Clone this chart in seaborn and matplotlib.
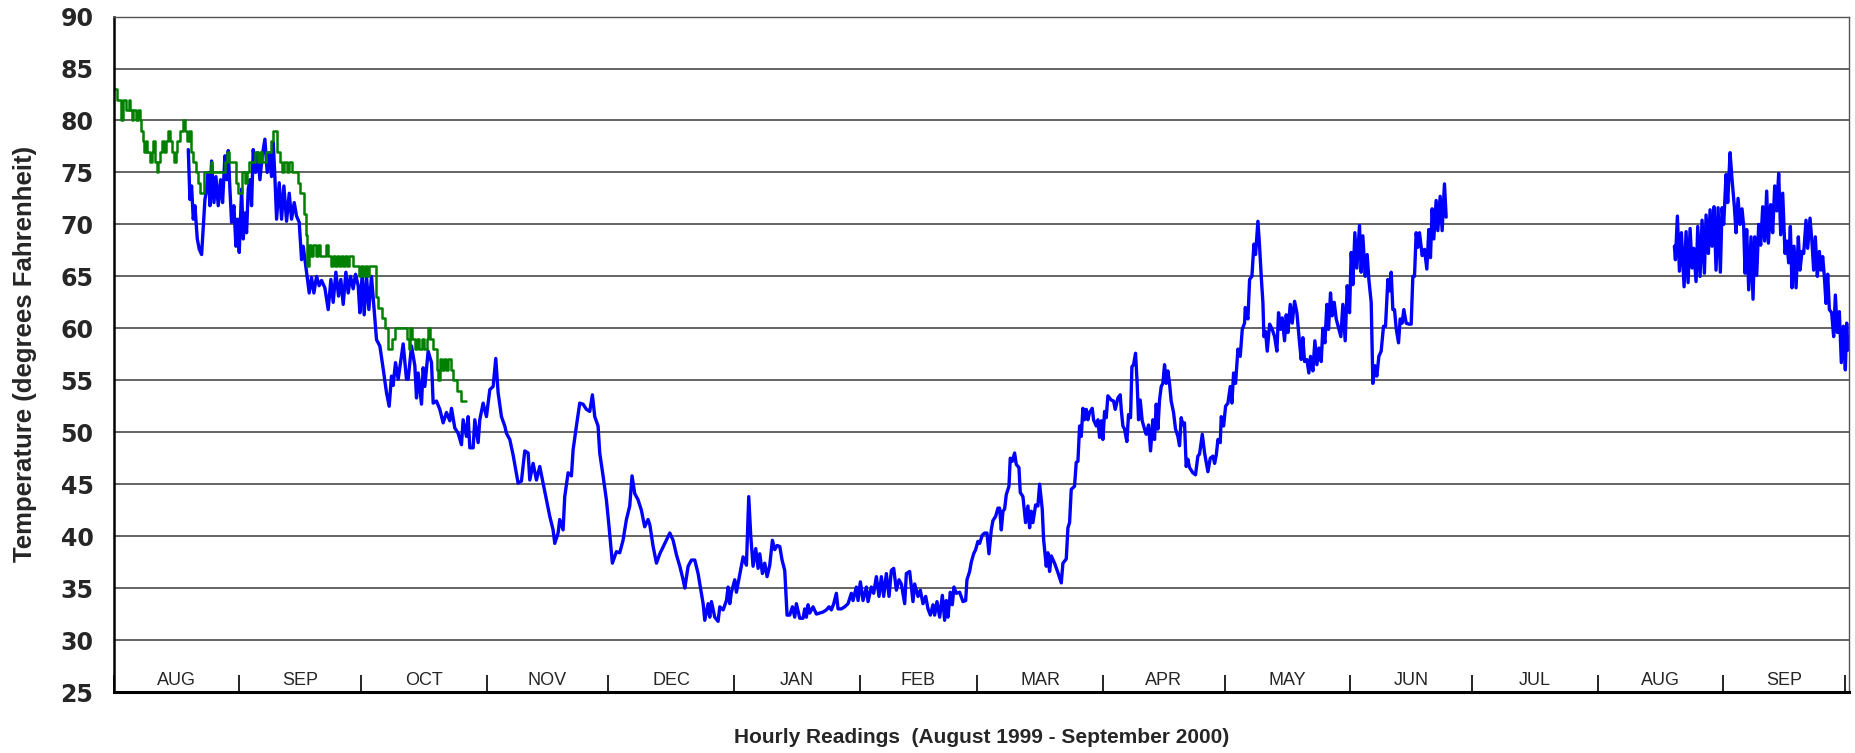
import matplotlib
matplotlib.use("Agg")
import matplotlib.pyplot as plt
import pandas as pd
import seaborn as sns

# Days since 1 Aug 1999
blue_days_a = [
    18.42, 18.83, 19.24, 19.65, 20.06, 20.64, 21.13, 21.71, 22.12, 22.53,
    22.94, 23.35, 23.76, 24.17, 24.75, 25.24, 25.81, 26.39, 26.88, 27.46,
    27.87, 28.28, 28.69, 29.10, 29.68, 30.17, 30.58, 30.99, 31.57, 31.98,
    32.39, 32.80, 33.21, 33.62, 34.03, 34.44, 35.02, 35.51, 36.09, 36.66,
    37.32, 37.89, 38.39, 38.96, 39.37, 39.78, 40.20, 40.85, 41.43, 42.00,
    42.66, 43.32, 43.89, 44.55, 45.12, 45.78, 46.36, 46.77, 47.59, 48.25,
    48.82, 49.40, 50.06, 50.71, 51.29, 52.11, 52.93, 53.59, 54.16, 54.82,
    55.48, 56.05, 56.63, 57.29, 57.86, 58.44, 59.09, 59.67, 60.33, 60.74,
    61.31, 61.80, 62.38, 62.96, 63.61, 64.19, 64.85, 65.67, 66.49, 67.31,
    67.97, 68.54, 68.95, 69.53, 70.19, 70.76, 71.42, 72.24,
    72.65, 73.48, 74.30, 74.71, 75.12, 75.94, 76.35, 76.76, 77.58, 78.41,
    78.82, 79.64, 80.46, 81.28, 82.10, 82.93, 83.34, 84.16, 84.98, 85.80,
    86.21, 87.03, 87.44, 87.86, 88.68, 89.09, 89.91, 90.32, 91.14, 91.96,
    92.79, 93.61, 94.26, 94.84, 95.66, 96.48, 96.89, 97.72, 98.54, 99.19,
    99.77, 100.59, 101.41, 102.24, 102.65, 103.47, 104.29, 105.11, 105.93, 106.75,
    107.58, 108.40, 108.81, 109.63, 110.04, 110.86, 111.27, 112.10, 112.92, 113.33,
    114.15, 114.97, 115.79, 116.61, 117.44, 118.09, 118.67, 119.49, 119.90, 120.72,
    121.54, 122.20, 123.02, 124.01, 124.83, 125.65, 126.48, 127.30, 127.87, 128.53,
    129.35, 130.17, 130.99, 131.82,
    132.25, 133.07, 133.89, 134.72, 135.95, 137.18, 138.00, 138.82, 139.65, 140.47,
    140.88, 141.70, 142.52, 143.34, 144.16, 144.99, 145.40, 145.81, 146.63, 147.04,
    147.45, 148.27, 149.09, 149.51, 150.33, 151.15, 151.56, 151.97, 152.38, 153.20,
    153.61, 154.44, 155.26, 156.08, 156.65, 157.15, 157.72, 158.38, 158.96, 159.37,
    160.02, 160.60, 161.17, 161.83, 162.49, 163.06, 163.64, 164.30, 164.87, 165.53,
    165.78, 166.10, 166.76, 167.42, 167.99, 168.40, 169.23, 170.05, 170.46, 170.87,
    171.28, 171.69, 172.51, 173.34, 174.16, 174.98, 175.80, 176.46, 177.03, 177.61,
    178.26, 178.68, 179.50, 180.32, 181.14, 181.96, 182.37, 183.19, 183.61, 184.18,
    184.84, 185.66, 186.07, 186.89, 187.47, 188.13, 188.78, 189.36, 189.93, 190.59,
    191.25, 191.82, 192.40, 193.06, 193.71, 194.29, 195.11, 195.52, 196.34, 197.16,
    197.57, 198.40, 198.97, 199.63, 200.29, 200.86, 201.44, 202.09, 202.50, 203.08,
    203.74, 204.40, 204.97, 205.38, 205.79, 206.37, 206.86, 207.27, 207.85, 208.67,
    209.49, 210.15, 210.47, 211.13, 211.54, 212.12, 212.61, 213.18, 213.60, 214.25,
    214.83, 215.41, 215.90, 216.47, 216.88, 217.54, 218.12,
    218.53, 218.94, 219.35, 219.76, 220.17, 220.83, 221.15, 221.65, 222.22, 222.63,
    223.29, 223.62, 224.28, 224.93, 225.51, 225.92, 226.33, 226.74, 227.40, 227.97,
    228.39, 229.04, 229.37, 230.03, 230.44, 230.85, 231.26, 232.08, 232.90, 233.73,
    234.14, 234.96, 235.37, 235.78, 236.19, 237.01, 237.42, 237.84, 238.25, 238.66,
    239.07, 239.48, 239.89, 240.30, 240.71, 241.37, 241.70, 242.35, 242.77, 243.18,
    243.59, 244.00, 244.41, 244.82, 245.23, 246.05, 246.63, 247.04, 247.70, 248.27,
    248.52, 248.93, 249.34, 249.91, 250.32, 250.82, 251.15, 251.56, 252.05, 252.46,
    252.79, 253.20, 253.69, 254.27, 254.68, 255.26, 255.75, 256.32, 256.73, 257.15,
    257.56, 257.97, 258.38, 258.79, 259.20, 259.61, 260.02, 260.43, 260.84, 261.42,
    261.91, 262.49, 262.90, 263.31, 263.72, 264.13, 264.54, 264.95, 265.36, 266.18,
    266.84, 267.42, 267.83,
    268.51, 269.08, 269.90, 270.48, 271.14, 271.55, 271.96, 272.37, 272.94, 273.19,
    273.77, 274.26, 274.83, 275.41, 275.82, 276.23, 276.72, 277.30, 277.87, 278.37,
    278.94, 279.11, 279.76, 280.18, 280.75, 281.24, 281.65, 282.23, 282.64, 283.05,
    283.46, 283.71, 284.12, 284.53, 285.11, 285.76, 286.34, 286.91, 287.32, 287.82,
    288.23, 288.80, 289.21, 289.63, 290.20, 290.69, 291.27, 291.84, 292.50, 292.91,
    293.32, 293.73, 294.31, 294.80, 295.21, 295.79, 296.28, 296.77, 297.27, 297.84,
    298.25, 298.75, 299.24, 299.65, 300.14, 300.55, 301.05, 301.54, 302.20, 302.69,
    303.18, 303.76, 304.25, 304.83, 305.24, 305.65, 306.14, 306.63, 307.29, 307.70,
    308.11, 308.69, 309.18, 309.59, 310.17, 310.58, 311.07, 311.56, 312.06, 312.63,
    313.21, 313.70, 314.28, 314.69, 315.10, 315.51, 315.92, 316.33, 316.91, 317.32,
    317.81, 318.22, 318.80, 319.45, 320.03, 320.44, 320.85, 321.26, 321.67, 322.08,
    322.74, 323.31, 323.89, 324.38, 324.79, 325.20, 325.61, 326.19, 326.60, 327.18,
    327.67, 328.24, 328.66,
]
blue_temps_a = [
    77.2, 72.4, 73.7, 70.5, 71.8, 68.6, 67.6, 67.1, 69.8, 72.4,
    73.4, 75.0, 71.8, 76.1, 72.1, 74.6, 71.8, 74.3, 72.1, 76.6,
    74.3, 77.1, 73.4, 70.2, 71.8, 67.9, 70.5, 67.3, 73.4, 68.6,
    71.1, 69.2, 73.4, 74.3, 71.8, 77.2, 75.0, 76.9, 74.3, 76.6,
    78.2, 75.0, 76.9, 74.6, 77.9, 74.6, 70.5, 74.0, 70.5, 73.7,
    70.3, 73.0, 70.5, 72.1, 70.8, 70.2, 66.6, 67.9, 65.4, 63.4,
    64.9, 63.4, 65.0, 64.1, 64.6, 63.9, 61.8, 64.7, 62.5, 65.4,
    63.1, 64.7, 62.3, 65.4, 63.4, 65.0, 63.8, 65.2, 64.1, 61.5,
    65.2, 61.3, 65.0, 61.8, 65.0, 62.1, 58.9, 58.3, 56.1, 53.8,
    52.5, 55.4, 54.5, 56.7, 55.1, 56.7, 58.5, 55.1,
    55.1, 58.3, 56.4, 53.3, 55.7, 52.7, 56.2, 54.4, 57.8, 56.7,
    52.8, 53.0, 52.2, 50.9, 51.9, 51.1, 52.3, 50.4, 49.9, 48.8,
    51.2, 49.6, 51.5, 48.5, 48.5, 51.2, 49.0, 51.2, 52.8, 51.5,
    54.1, 54.4, 57.1, 53.8, 51.5, 50.6, 49.9, 49.3, 47.8, 46.4,
    45.1, 45.3, 48.2, 48.0, 45.4, 47.0, 45.4, 46.7, 45.1, 43.5,
    41.9, 40.6, 39.3, 40.3, 41.6, 40.6, 43.8, 46.1, 45.8, 48.3,
    50.6, 52.8, 52.7, 52.2, 52.0, 53.6, 51.5, 50.6, 48.0, 45.8,
    43.5, 40.9, 37.4, 38.5, 38.4, 39.6, 41.6, 42.9, 45.8, 44.1,
    43.5, 42.5, 40.9, 41.6,
    41.1, 39.0, 37.4, 38.3, 39.3, 40.3, 39.6, 38.2, 37.1, 35.8,
    35.0, 37.1, 37.7, 37.7, 36.4, 34.5, 33.5, 31.9, 33.5, 32.2,
    33.7, 32.2, 31.8, 33.2, 32.9, 33.8, 35.1, 33.5, 34.6, 35.8,
    34.6, 36.3, 38.0, 37.2, 43.8, 40.0, 37.1, 38.8, 36.9, 38.3,
    36.4, 37.4, 36.1, 37.2, 39.6, 38.7, 39.1, 39.0, 37.7, 36.7,
    34.8, 32.4, 32.4, 33.2, 32.2, 33.5, 32.1, 32.1, 33.0, 32.2,
    33.4, 32.6, 33.2, 32.5, 32.6, 32.7, 32.9, 33.2, 32.9, 33.5,
    34.5, 33.0, 33.0, 33.2, 33.5, 34.5, 33.8, 35.1, 33.8, 35.6,
    33.8, 35.1, 33.7, 35.1, 34.5, 36.1, 34.2, 36.1, 34.2, 36.4,
    34.2, 36.7, 36.9, 34.8, 35.8, 35.4, 33.5, 36.4, 36.6, 33.7,
    35.4, 34.2, 34.8, 33.5, 34.2, 33.0, 32.4, 33.4, 32.4, 33.7,
    32.2, 34.3, 31.9, 33.8, 32.2, 34.6, 33.4, 35.1, 34.5, 34.6,
    33.7, 33.8, 35.8, 36.6, 37.5, 38.3, 38.7, 39.5, 39.3, 40.1,
    40.3, 40.3, 38.3, 40.6, 41.5, 41.9, 42.7,
    42.7, 40.6, 42.4, 42.6, 44.0, 44.8, 47.5, 47.2, 48.0, 46.9,
    46.6, 44.2, 43.8, 41.3, 42.9, 40.8, 42.4, 41.3, 43.0, 42.9,
    45.0, 42.6, 39.7, 37.1, 38.4, 36.6, 38.1, 37.4, 36.5, 35.5,
    37.4, 37.8, 40.8, 41.3, 44.5, 44.8, 47.1, 47.2, 50.6, 49.6,
    52.3, 51.2, 52.2, 51.2, 51.9, 52.3, 51.2, 50.6, 51.2, 49.5,
    51.1, 49.3, 52.0, 51.4, 53.5, 53.1, 53.0, 52.2, 53.3, 53.6,
    52.2, 50.6, 50.3, 49.1, 51.7, 51.4, 56.3, 56.5, 57.6, 54.6,
    51.2, 53.1, 51.1, 50.3, 49.8, 50.7, 48.2, 51.2, 49.3, 52.7,
    50.3, 53.1, 54.4, 54.7, 56.5, 54.7, 55.9, 54.7, 53.0, 51.9,
    50.3, 49.6, 48.7, 51.4, 50.7, 50.9, 46.7, 47.4, 46.6, 46.1,
    45.9, 47.7, 47.9,
    49.8, 48.0, 46.2, 47.5, 47.7, 47.0, 47.8, 49.3, 49.0, 51.5,
    50.6, 52.5, 52.8, 54.4, 52.8, 55.7, 54.7, 58.0, 57.3, 59.9,
    60.5, 62.0, 60.9, 64.7, 65.0, 68.1, 67.1, 70.3, 67.9, 65.0,
    62.5, 59.2, 59.7, 57.8, 60.4, 59.9, 59.2, 57.8, 61.5, 59.9,
    61.0, 58.8, 61.3, 59.6, 62.3, 60.5, 62.6, 61.5, 58.6, 57.0,
    59.1, 56.8, 57.0, 55.7, 57.3, 55.9, 58.8, 56.5, 58.1, 56.8,
    60.0, 58.6, 62.3, 59.9, 63.4, 61.2, 62.5, 60.9, 59.9, 59.2,
    62.3, 58.8, 64.1, 61.5, 67.3, 64.2, 69.2, 65.8, 69.9, 65.4,
    68.9, 65.0, 67.1, 64.7, 62.5, 54.7, 56.4, 55.4, 57.3, 57.8,
    60.2, 60.2, 64.7, 63.6, 65.4, 61.8, 61.8, 60.0, 58.6, 60.9,
    60.5, 61.8, 60.5, 60.4, 60.4, 65.0, 65.0, 69.2, 67.8, 69.2,
    67.0, 67.6, 65.7, 69.5, 66.8, 71.5, 68.6, 72.3, 69.4, 72.7,
    69.4, 73.9, 70.7,
]

# Second logger run, Aug-Sep 2000
blue_days_b = [
    384.95, 385.20, 385.69, 386.19, 386.68, 387.34, 387.83, 388.32, 388.82, 389.31,
    389.72, 390.29, 390.71, 391.28, 391.77, 392.35, 392.76, 393.33, 393.75, 394.24,
    394.73, 395.22, 395.72, 396.29, 396.70, 397.11, 397.69, 398.10, 398.68, 399.17,
    399.74, 400.15, 400.65, 401.14, 401.63, 402.04, 402.37, 402.78, 403.28, 403.85,
    404.34, 404.76, 405.25, 405.74, 406.23, 406.73, 407.22, 407.71, 408.13, 408.70,
    409.19, 409.69, 410.18, 410.67, 411.17, 411.66, 412.23, 412.64, 413.14, 413.55,
    413.96, 414.45, 414.95, 415.52, 415.93, 416.42, 416.84, 417.41, 417.82, 418.40,
    418.89, 419.30, 419.71, 420.20, 420.70, 421.11, 421.52, 421.93, 422.34, 422.76,
    423.17, 423.74, 424.23, 424.65, 425.14, 425.63, 426.12, 426.62, 427.11, 427.44,
    427.76,
]
blue_temps_b = [
    67.9, 66.6, 70.8, 65.5, 69.2, 64.0, 69.3, 64.4, 69.6, 65.8,
    67.7, 64.5, 69.8, 65.0, 70.4, 65.3, 70.9, 67.2, 71.4, 67.9,
    71.7, 65.6, 71.6, 65.4, 71.6, 70.0, 74.8, 72.1, 76.9, 74.3,
    71.7, 69.2, 72.5, 70.0, 71.5, 69.8, 65.3, 69.5, 63.7, 68.8,
    62.8, 68.8, 65.1, 70.0, 68.0, 71.7, 68.4, 73.2, 68.2, 71.9,
    69.2, 73.7, 71.3, 74.9, 69.0, 73.0, 67.2, 68.4, 66.3, 69.8,
    63.9, 67.9, 63.9, 68.8, 65.6, 67.4, 67.2, 70.4, 67.7, 70.6,
    68.2, 65.6, 68.8, 65.0, 67.4, 65.6, 66.9, 65.0, 62.4, 65.2,
    61.8, 61.5, 59.2, 63.2, 59.6, 61.6, 56.7, 60.2, 56.0, 60.5,
    57.9,
]

# Whole-degree record (step changes)
green_days = [
    0.0, 0.9, 1.9, 2.4, 3.0, 3.8, 4.0, 4.5, 4.9, 5.6,
    6.0, 6.5, 6.7, 7.2, 7.4, 8.0, 8.3, 9.0, 9.4, 9.8,
    10.1, 10.6, 11.0, 11.4, 12.0, 12.5, 13.0, 13.3, 13.8, 14.3,
    14.8, 15.3, 15.6, 16.5, 17.0, 17.5, 18.0, 18.5, 19.0, 19.6,
    20.3, 20.9, 21.3, 22.4, 24.0, 24.3, 27.4, 28.0, 28.5, 30.3,
    30.7, 31.6, 32.3, 32.8, 33.4, 35.0, 35.5, 36.0, 36.6, 37.6,
    38.9, 39.4, 40.3, 41.0, 41.5, 42.0, 42.7, 43.3, 44.0, 45.5,
    46.0, 47.0, 47.4, 47.8, 48.2, 48.7, 49.2, 49.8, 50.3, 51.0,
    52.5, 53.0, 53.5, 54.0, 54.5, 55.0, 55.5, 56.0, 56.5, 57.0,
    57.5, 58.0, 59.0, 60.5, 61.0, 61.5, 62.0, 62.5, 63.0, 64.6,
    65.3, 66.3, 67.0, 67.6, 68.6, 69.4, 72.4, 72.8, 73.2, 73.6,
    74.3, 74.8, 75.3, 76.0, 76.6, 77.3, 77.6, 78.0, 78.9, 79.8,
    80.1, 80.4, 80.9, 81.4, 82.0, 82.6, 83.3, 83.8, 84.8, 85.8,
    86.8,
]
green_temps = [
    83, 82, 80, 82, 81, 82, 81, 80, 81, 80,
    81, 80, 79, 78, 77, 78, 77, 76, 77, 78,
    76, 75, 76, 77, 78, 77, 78, 79, 78, 77,
    76, 77, 78, 79, 80, 79, 78, 79, 77, 76,
    75, 74, 73, 75, 76, 75, 76, 77, 76, 74,
    73, 75, 74, 75, 76, 77, 76, 77, 76, 77,
    78, 79, 77, 76, 75, 76, 75, 76, 75, 74,
    73, 71, 69, 66, 68, 67, 68, 67, 68, 67,
    68, 67, 66, 67, 66, 67, 66, 67, 66, 67,
    66, 67, 66, 65, 66, 65, 66, 65, 66, 63,
    62, 61, 60, 58, 59, 60, 59, 58, 60, 59,
    58, 59, 58, 59, 58, 59, 60, 59, 58, 56,
    55, 57, 56, 57, 56, 57, 56, 55, 54, 53,
    53,
]

month_names = ["AUG", "SEP", "OCT", "NOV", "DEC", "JAN", "FEB",
               "MAR", "APR", "MAY", "JUN", "JUL", "AUG", "SEP"]
month_lengths = [31, 30, 31, 30, 31, 31, 29, 31, 30, 31, 30, 31, 31, 30]

blue = pd.concat([
    pd.DataFrame({"day": blue_days_a, "temp": blue_temps_a, "run": 1}),
    pd.DataFrame({"day": blue_days_b, "temp": blue_temps_b, "run": 2}),
])
green = pd.DataFrame({"day": green_days, "temp": green_temps})

sns.set_style("white")
plt.rcParams["font.family"] = ["Liberation Sans", "DejaVu Sans"]

fig = plt.figure(figsize=(18.56, 7.53), dpi=100)
ax = fig.add_axes([0.0612, 0.081, 0.935, 0.897])

sns.lineplot(data=blue, x="day", y="temp", units="run", estimator=None,
             sort=False, color="#0000ff", linewidth=2.4, ax=ax)
sns.lineplot(data=green, x="day", y="temp", estimator=None, sort=False,
             drawstyle="steps-post", color="#008000", linewidth=1.8, ax=ax)

ax.set_xlim(0, 428)
ax.set_ylim(25, 90)

# y axis
ax.set_yticks(range(25, 95, 5))
ax.yaxis.grid(True, color="#4a4a4a", linewidth=1.2)
ax.set_axisbelow(True)
ax.tick_params(axis="y", left=False, pad=11, labelsize=17)
for lab in ax.get_yticklabels():
    lab.set_fontweight("bold")
    lab.set_family("DejaVu Sans")

# month boundaries as inward ticks, names inside the bottom band
edges = [0]
for n in month_lengths:
    edges.append(edges[-1] + n)
ax.set_xticks(edges)
ax.set_xticklabels([])
ax.tick_params(axis="x", bottom=True, direction="in", length=12, width=1.2,
               color="black")
for i, name in enumerate(month_names):
    mid = (edges[i] + edges[i + 1]) / 2
    ax.text(mid, 26.1, name, ha="center", va="center", fontsize=13)

for side in ["left", "bottom"]:
    ax.spines[side].set_color("black")
ax.spines["left"].set_linewidth(1.8)
ax.spines["bottom"].set_linewidth(2.2)
for side in ["top", "right"]:
    ax.spines[side].set_color("#555555")
    ax.spines[side].set_linewidth(1.0)

ax.set_ylabel("Temperature (degrees Fahrenheit)", fontsize=18.5,
              fontweight="bold", va="center")
ax.yaxis.set_label_coords(-0.051, 0.5)
ax.set_xlabel("Hourly Readings  (August 1999 - September 2000)", fontsize=15,
              fontweight="bold", va="center")
ax.xaxis.set_label_coords(0.5, -0.067)

fig.savefig("out.png", dpi=100)
